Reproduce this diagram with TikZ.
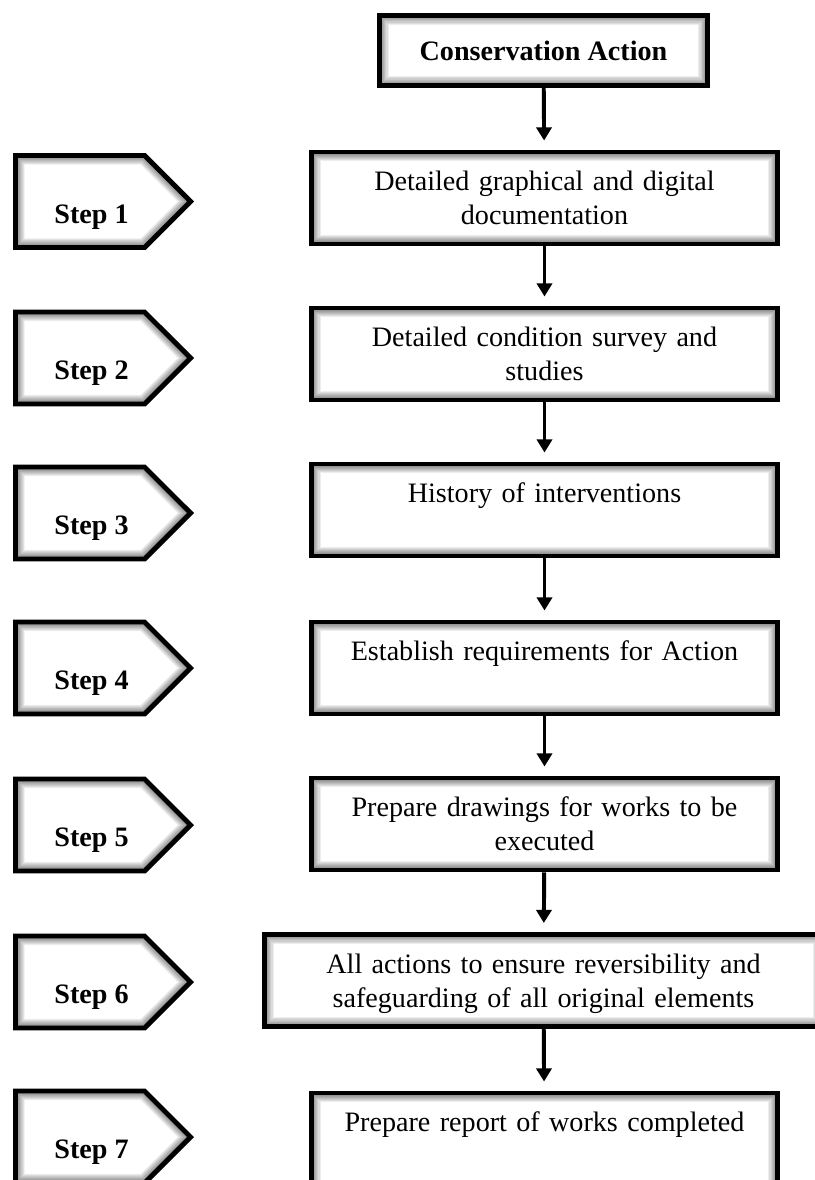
\documentclass[tikz,border=0pt]{standalone}
\usepackage{fontspec}
\setmainfont{Liberation Serif}
\usetikzlibrary{arrows.meta,shapes.symbols,calc}

\begin{document}
\begin{tikzpicture}[x=0.025cm, y=-0.025cm, font=\fontsize{20}{24}\selectfont,
        glow/.style={path picture={
          \foreach \w in {4,5.5,...,14}
            \draw[black, opacity=0.07, line width=\w pt]
              (path picture bounding box.north west) rectangle (path picture bounding box.south east);
        }},
        sigglow/.style={path picture={
          \foreach \w in {4,5.5,...,14}
            \draw[black, opacity=0.07, line width=\w pt]
              let \p1=(path picture bounding box.north west),
                  \p2=(path picture bounding box.south east),
                  \n1={(\y1-\y2)/2} in
              (\p1) -- (\x2-\n1,\y1) -- (\x2,\y2+\n1) -- (\x2-\n1,\y2) -- (\x1,\y2) -- cycle;
        }},
        flow/.style={line width=2.8pt, -{Triangle[length=0.33cm, width=0.38cm]}, shorten >=0.225cm}]
      \tikzstyle{box} = [draw, line width=3.5pt, fill=white, glow, inner sep=0pt,
        minimum width=11.65cm, text width=11.5cm, align=center,
        text height=0.975cm, text depth=1.325cm, anchor=north]
      \tikzstyle{stepmark} = [signal, signal to=east, signal pointer angle=90, draw,
        line width=3.5pt, fill=white, sigglow, inner sep=0pt,
        minimum width=4.375cm, minimum height=2.3cm]
      \tikzstyle{steptext} = [font=\fontsize{20}{24}\selectfont\bfseries, anchor=base, inner sep=0pt]
      \useasboundingbox (0,0) rectangle (815,1180);

      \node (ca) [draw, line width=3.5pt, fill=white, glow, minimum width=8.2cm,
        minimum height=1.75cm, font=\fontsize{20}{24}\selectfont\bfseries]
        at (543.5,50.5) {Conservation Action};

      \node (b1) [box] at (544.5,149.5) {Detailed graphical and digital\\ documentation};
      \node (b2) [box] at (544.5,305.5) {Detailed condition survey and\\ studies};
      \node (b3) [box] at (544.5,461.5) {History of interventions};
      \node (b4) [box] at (544.5,619.5) {Establish requirements for Action};
      \node (b5) [box] at (544.5,775.5) {Prepare drawings for works to be\\ executed};
      \node (b6) [box, minimum width=13.95cm] at (543.5,932) {All actions to ensure reversibility and\\ safeguarding of all original elements};
      \node (b7) [box, text depth=2.4cm] at (544.5,1090.5) {Prepare report of works completed};

      \foreach \n/\y in {1/201.5,2/358,3/513,4/668,5/825,6/982,7/1137} {
        \node (s\n) [stepmark] at (80,\y) {};
        \node (t\n) [steptext] at ([shift={(11.5,21.5)}]s\n.center) {Step \n};
      }

      \draw[flow] (ca) -- (b1);
      \foreach \a/\b in {b1/b2,b2/b3,b3/b4,b4/b5,b5/b6,b6/b7}
        \draw[flow] (\a) -- (\b);
    \end{tikzpicture}
\end{document}
